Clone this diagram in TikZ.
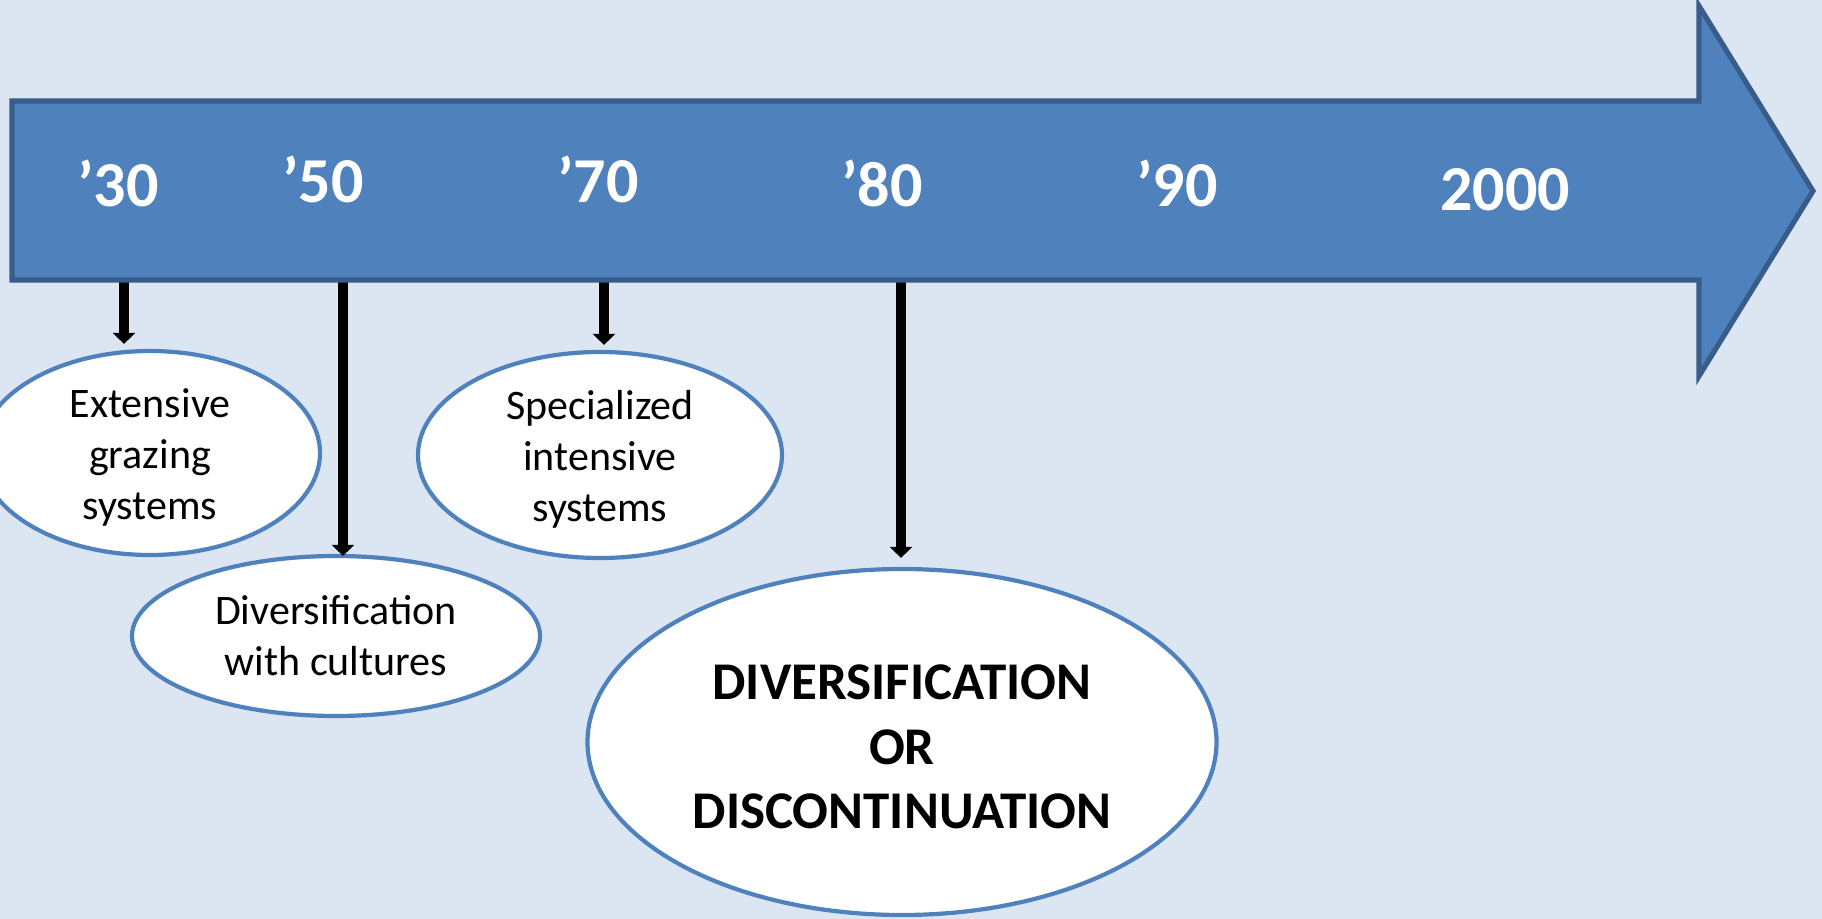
\documentclass[tikz,border=0pt]{standalone}
\usepackage{fontspec}
\setmainfont{Carlito}
\usetikzlibrary{shapes.geometric,arrows.meta}
\definecolor{bgblue}{HTML}{DCE6F2}
\definecolor{barfill}{HTML}{4F81BD}
\definecolor{barline}{HTML}{385D8A}
\begin{document}
\begin{tikzpicture}[x=0.5pt,y=-0.5pt,
  year/.style={text=white,font=\fontsize{32}{38}\selectfont\bfseries,anchor=base,inner sep=0},
  phase/.style={ellipse,draw=barfill,line width=2.1pt,fill=white,inner sep=0},
  phasetext/.style={align=center,font=\fontsize{21}{25.5}\selectfont,inner sep=0},
  bigtext/.style={align=center,font=\fontsize{26.5}{32.25}\selectfont\bfseries,inner sep=0},
  conn/.style={line width=4.8pt,-{Triangle[width=11pt,length=5.5pt]}}]
  % page and background
  \useasboundingbox (0,0) rectangle (1822,919);
  \clip (0,0) rectangle (1822,919);
  \fill[bgblue] (0,0) rectangle (1822,919);

  % points on the lower edge of the time bar
  \coordinate (t30) at (124,280);
  \coordinate (t50) at (343,280);
  \coordinate (t70) at (604,280);
  \coordinate (t80) at (901,280);

  % phase ellipses
  \node[phase,minimum width=170pt,minimum height=102pt] (ext) at (150,453) {};
  \node[phase,minimum width=204pt,minimum height=80pt] (div) at (336,636) {};
  \node[phase,minimum width=182pt,minimum height=103pt] (spe) at (600,455) {};
  \node[phase,minimum width=314.5pt,minimum height=173pt] (dis) at (902,742) {};

  \node[phasetext] at ([yshift=-2pt]ext.center) {Extensive\\grazing\\systems};
  \node[phasetext] at ([yshift=0pt]div.center) {Diversification\\with cultures};
  \node[phasetext] at ([yshift=-2pt]spe.center) {Specialized\\intensive\\systems};
  \node[bigtext] at ([yshift=-2.5pt]dis.center) {DIVERSIFICATION\\OR\\DISCONTINUATION};

  % connectors from the time bar down to the phases
  \draw[conn,shorten >=2.5pt] (t30) -- (t30 |- ext.north);
  \draw[conn,shorten >=-1pt] (t50) -- (t50 |- div.north);
  \draw[conn,shorten >=2.5pt] (t70) -- (t70 |- spe.north);
  \draw[conn,shorten >=4.5pt] (t80) -- (t80 |- dis.north);

  % the time bar
  \draw[fill=barfill,draw=barline,line width=2.6pt,line join=miter]
    (12,101) -- (1699,101) -- (1699,6) -- (1813,191) -- (1699,376)
    -- (1699,280) -- (12,280) -- cycle;

  % decades
  \node[year] (y30) at (118,207) {’30};
  \node[year] (y50) at (323,203) {’50};
  \node[year] (y70) at (598,203) {’70};
  \node[year] (y80) at (882,207) {’80};
  \node[year] (y90) at (1177,207) {’90};
  \node[year] (y00) at (1505,211) {2000};
\end{tikzpicture}
\end{document}
